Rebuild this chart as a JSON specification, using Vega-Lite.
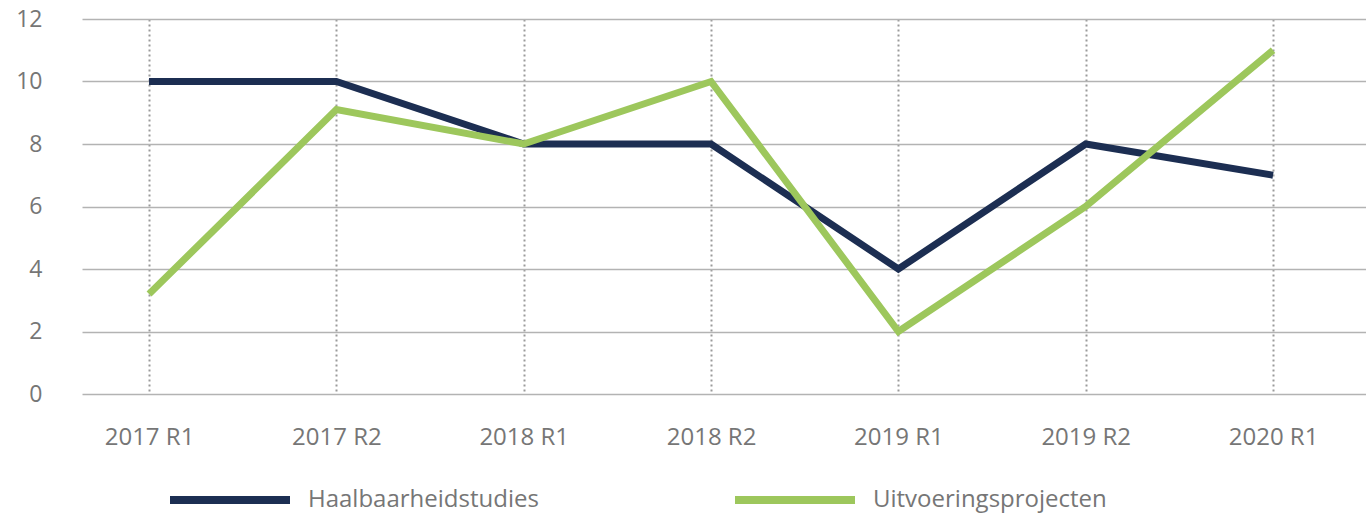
{
  "$schema": "https://vega.github.io/schema/vega-lite/v6.json",
  "width": 1284,
  "height": 375,
  "autosize": {"type": "none"},
  "padding": {"left": 82, "top": 19, "right": 0, "bottom": 121},
  "background": "white",
  "config": {"font": "Open Sans", "view": {"stroke": null}},
  "data": {
    "values": [
      {"period": "2017 R1", "series": "Haalbaarheidstudies", "value": 10},
      {"period": "2017 R2", "series": "Haalbaarheidstudies", "value": 10},
      {"period": "2018 R1", "series": "Haalbaarheidstudies", "value": 8},
      {"period": "2018 R2", "series": "Haalbaarheidstudies", "value": 8},
      {"period": "2019 R1", "series": "Haalbaarheidstudies", "value": 4},
      {"period": "2019 R2", "series": "Haalbaarheidstudies", "value": 8},
      {"period": "2020 R1", "series": "Haalbaarheidstudies", "value": 7},
      {"period": "2017 R1", "series": "Uitvoeringsprojecten", "value": 3.2},
      {"period": "2017 R2", "series": "Uitvoeringsprojecten", "value": 9.1},
      {"period": "2018 R1", "series": "Uitvoeringsprojecten", "value": 8},
      {"period": "2018 R2", "series": "Uitvoeringsprojecten", "value": 10},
      {"period": "2019 R1", "series": "Uitvoeringsprojecten", "value": 2},
      {"period": "2019 R2", "series": "Uitvoeringsprojecten", "value": 6},
      {"period": "2020 R1", "series": "Uitvoeringsprojecten", "value": 11}
    ]
  },
  "mark": {"type": "line", "strokeWidth": 7, "strokeCap": "butt", "strokeJoin": "miter"},
  "encoding": {
    "x": {
      "field": "period",
      "type": "ordinal",
      "sort": null,
      "scale": {"type": "point", "padding": 0.427, "align": 0.419},
      "axis": {
        "title": null,
        "labelAngle": 0,
        "domain": false,
        "ticks": false,
        "grid": true,
        "gridDash": [2, 3],
        "gridColor": "#9a9a9a",
        "gridWidth": 2,
        "labelPadding": 31,
        "labelFontSize": 24,
        "labelColor": "#767676"
      }
    },
    "y": {
      "field": "value",
      "type": "quantitative",
      "scale": {"domain": [0, 12], "nice": false},
      "axis": {
        "title": null,
        "values": [0, 2, 4, 6, 8, 10, 12],
        "domain": false,
        "ticks": false,
        "labelPadding": 40,
        "labelFontSize": 23,
        "labelColor": "#767676",
        "gridColor": "#b3b3b3",
        "gridWidth": 1.5
      }
    },
    "color": {
      "field": "series",
      "type": "nominal",
      "scale": {"domain": ["Haalbaarheidstudies", "Uitvoeringsprojecten"], "range": ["#1c2e52", "#9dc75c"]},
      "legend": {
        "orient": "none",
        "legendX": 84,
        "legendY": 417,
        "direction": "horizontal",
        "title": null,
        "symbolType": "stroke",
        "symbolSize": 14400,
        "symbolStrokeWidth": 8,
        "labelFontSize": 24,
        "labelColor": "#767676",
        "labelOffset": 14,
        "columnPadding": 180,
        "labelLimit": 400
      }
    }
  }
}
